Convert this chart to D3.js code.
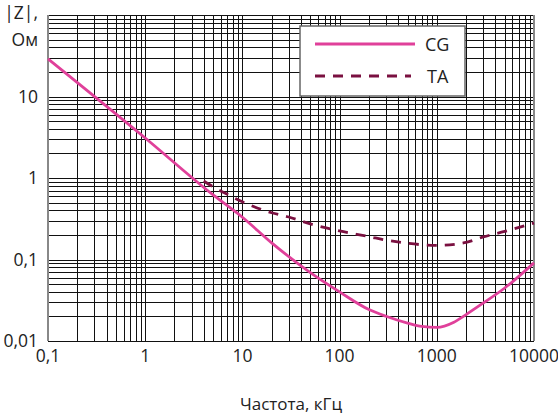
<!DOCTYPE html>
<html><head><meta charset="utf-8">
<script src="https://cdn.jsdelivr.net/npm/d3@7"></script>
<style>body{margin:0;background:#fff}svg{display:block}text{font-family:"Open Sans",sans-serif;fill:#222}</style>
</head><body><svg id="c" width="558" height="414"></svg>
<script>
const cgFreq = [0.1, 1, 5, 10, 20, 50, 100, 200, 300, 500, 700, 1000, 1500, 2000, 3000, 5000, 10000];
const cgZ    = [29, 3.1, 0.62, 0.33, 0.16, 0.069, 0.040, 0.0243, 0.0201, 0.0166, 0.0151, 0.0147, 0.017, 0.0211, 0.0292, 0.0447, 0.091];
const taFreq = [4, 5, 7, 10, 20, 30, 50, 100, 200, 300, 500, 1000, 2000, 3000, 5000, 10000];
const taZ    = [0.92, 0.78, 0.63, 0.51, 0.375, 0.332, 0.273, 0.224, 0.191, 0.173, 0.158, 0.149, 0.162, 0.189, 0.221, 0.28];
const xTicks = [0.1, 1, 10, 100, 1000, 10000];
const xTickLabels = ["0,1", "1", "10", "100", "1000", "10000"];
const yTicks = [0.01, 0.1, 1, 10];
const yTickLabels = ["0,01", "0,1", "1", "10"];
const seriesNames = ["CG", "TA"];

const L = 48, R = 534, T = 15, B = 341;
const svg = d3.select("#c");
const x = d3.scaleLog().domain([0.1, 10000]).range([L, R]);
const y = d3.scaleLog().domain([0.01, 100]).range([B, T]);

// grid values
const xGrid = [], yGrid = [];
for (let d = 0.1; d < 10000 * 0.99; d *= 10) for (let k = 1; k <= 9; k++) xGrid.push(+(k * d).toPrecision(3));
xGrid.push(10000);
for (let d = 0.01; d < 100 * 0.99; d *= 10) for (let k = 1; k <= 9; k++) yGrid.push(+(k * d).toPrecision(3));
yGrid.push(100);

const g = svg.append("g");
g.selectAll("line.h").data(yGrid).join("line")
  .attr("x1", L).attr("x2", R).attr("y1", d => Math.round(y(d)) + 0.5).attr("y2", d => Math.round(y(d)) + 0.5)
  .attr("stroke", "#111").attr("stroke-width", 1);
g.selectAll("line.v").data(xGrid).join("line")
  .attr("y1", T).attr("y2", B).attr("x1", d => Math.round(x(d)) + 0.5).attr("x2", d => Math.round(x(d)) + 0.5)
  .attr("stroke", "#111").attr("stroke-width", 1);
// side frame
svg.append("line").attr("x1", L).attr("x2", L).attr("y1", T).attr("y2", B).attr("stroke", "#888").attr("stroke-width", 2);
svg.append("line").attr("x1", R).attr("x2", R).attr("y1", T).attr("y2", B).attr("stroke", "#888").attr("stroke-width", 2);

// curves
const line = d3.line().x(d => x(d[0])).y(d => y(d[1])).curve(d3.curveMonotoneX);
svg.append("path").datum(cgFreq.map((f, i) => [f, cgZ[i]])).attr("d", line)
  .attr("fill", "none").attr("stroke", "#e0409a").attr("stroke-width", 2.8);
svg.append("path").datum(taFreq.map((f, i) => [f, taZ[i]])).attr("d", line)
  .attr("fill", "none").attr("stroke", "#7a1040").attr("stroke-width", 2.8).attr("stroke-dasharray", "10,8");

// tick labels
svg.selectAll("text.xt").data(xTicks).join("text")
  .attr("x", d => x(d)).attr("y", 362).attr("text-anchor", "middle").attr("font-size", 17.5)
  .text((d, i) => xTickLabels[i]);
svg.selectAll("text.yt").data(yTicks).join("text")
  .attr("x", 38).attr("y", d => y(d) + 6).attr("text-anchor", "end").attr("font-size", 17.5)
  .text((d, i) => yTickLabels[i]);

// axis titles
svg.append("text").attr("x", 38).attr("y", 19).attr("text-anchor", "end").attr("font-size", 17.5).text("|Z|,");
svg.append("text").attr("x", 38).attr("y", 46).attr("text-anchor", "end").attr("font-size", 17.5).text("Ом");
svg.append("text").attr("x", 291).attr("y", 410).attr("text-anchor", "middle").attr("font-size", 17).text("Частота, кГц");

// legend
const lg = svg.append("g");
lg.append("rect").attr("x", 300).attr("y", 26).attr("width", 165).attr("height", 70)
  .attr("fill", "#fff").attr("stroke", "#666").attr("stroke-width", 1.5);
lg.append("line").attr("x1", 315).attr("x2", 415).attr("y1", 44).attr("y2", 44)
  .attr("stroke", "#e0409a").attr("stroke-width", 2.8);
lg.append("line").attr("x1", 315).attr("x2", 411).attr("y1", 76).attr("y2", 76)
  .attr("stroke", "#7a1040").attr("stroke-width", 2.8).attr("stroke-dasharray", "10,8");
lg.append("text").attr("x", 425).attr("y", 51).attr("font-size", 18).text(seriesNames[0]);
lg.append("text").attr("x", 427).attr("y", 83).attr("font-size", 18).text(seriesNames[1]);
</script></body></html>
